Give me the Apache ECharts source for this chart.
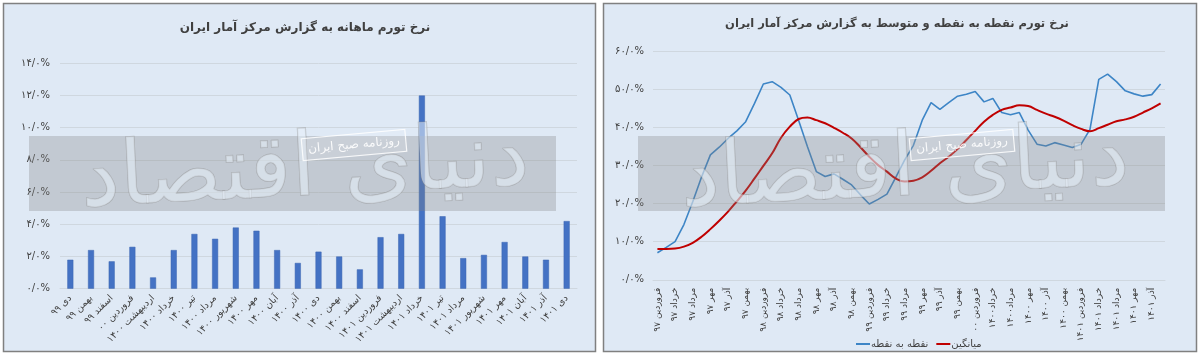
<!DOCTYPE html>
<html><head><meta charset="utf-8">
<script src="https://cdn.jsdelivr.net/npm/echarts@6/dist/echarts.min.js"></script>
<style>html,body{margin:0;padding:0;background:#fff}#c{width:1200px;height:356px}</style>
</head><body><div id="c"></div><script>
const leftTitle = 'نرخ تورم ماهانه به گزارش مرکز آمار ایران';
const rightTitle = 'نرخ تورم نقطه به نقطه و متوسط به گزارش مرکز آمار ایران';
const watermarkBig = 'دنیای اقتصاد';
const watermarkSmall = 'روزنامه صبح ایران';

const barCategories = ['دی ۹۹','بهمن ۹۹','اسفند ۹۹','فروردین ۰۰','اردیبهشت ۱۴۰۰','خرداد ۱۴۰۰','تیر ۱۴۰۰','مرداد ۱۴۰۰','شهریور ۱۴۰۰','مهر ۱۴۰۰','آبان ۱۴۰۰','آذر ۱۴۰۰','دی ۱۴۰۰','بهمن ۱۴۰۰','اسفند ۱۴۰۰','فروردین ۱۴۰۱','اردیبهشت ۱۴۰۱','خرداد ۱۴۰۱','تیر ۱۴۰۱','مرداد ۱۴۰۱','شهریور ۱۴۰۱','مهر ۱۴۰۱','آبان ۱۴۰۱','آذر ۱۴۰۱','دی ۱۴۰۱'];
const monthlyInflation = [1.8, 2.4, 1.7, 2.6, 0.7, 2.4, 3.4, 3.1, 3.8, 3.6, 2.4, 1.6, 2.3, 2.0, 1.2, 3.2, 3.4, 12.0, 4.5, 1.9, 2.1, 2.9, 2.0, 1.8, 4.2];
const barTickLabels = ['۰/۰%','۲/۰%','۴/۰%','۶/۰%','۸/۰%','۱۰/۰%','۱۲/۰%','۱۴/۰%'];

const lineCategories = [
 'فروردین ۹۷','اردیبهشت ۹۷','خرداد ۹۷','تیر ۹۷','مرداد ۹۷','شهریور ۹۷','مهر ۹۷','آبان ۹۷','آذر ۹۷','دی ۹۷','بهمن ۹۷','اسفند ۹۷',
 'فروردین ۹۸','اردیبهشت ۹۸','خرداد ۹۸','تیر ۹۸','مرداد ۹۸','شهریور ۹۸','مهر ۹۸','آبان ۹۸','آذر ۹۸','دی ۹۸','بهمن ۹۸','اسفند ۹۸',
 'فروردین ۹۹','اردیبهشت ۹۹','خرداد ۹۹','تیر ۹۹','مرداد ۹۹','شهریور ۹۹','مهر ۹۹','آبان ۹۹','آذر ۹۹','دی ۹۹','بهمن ۹۹','اسفند ۹۹',
 'فروردین ۰۰','اردیبهشت ۱۴۰۰','خرداد۱۴۰۰','تیر ۱۴۰۰','مرداد۱۴۰۰','شهریور ۱۴۰۰','مهر ۱۴۰۰','آبان ۱۴۰۰','آذر ۱۴۰۰','دی ۱۴۰۰','بهمن ۱۴۰۰','اسفند ۱۴۰۰',
 'فروردین ۱۴۰۱','اردیبهشت ۱۴۰۱','خرداد ۱۴۰۱','تیر ۱۴۰۱','مرداد ۱۴۰۱','شهریور ۱۴۰۱','مهر ۱۴۰۱','آبان ۱۴۰۱','آذر ۱۴۰۱','دی ۱۴۰۱'];
const pointInflation = [7.1, 8.5, 10.0, 14.5, 20.5, 27.0, 32.8, 34.8, 37.1, 39.1, 41.5, 46.3,
 51.4, 52.0, 50.5, 48.5, 41.8, 34.9, 28.4, 27.1, 27.8, 26.4, 24.9, 22.3,
 19.9, 21.1, 22.5, 26.9, 31.4, 35.3, 41.9, 46.5, 44.7, 46.5, 48.2, 48.7,
 49.4, 46.7, 47.6, 43.9, 43.3, 43.9, 39.3, 35.6, 35.1, 36.0, 35.4, 34.7,
 35.6, 39.5, 52.6, 54.0, 52.0, 49.6, 48.8, 48.2, 48.6, 51.4];
const averageInflation = [8.1, 8.1, 8.2, 8.7, 9.7, 11.3, 13.3, 15.5, 17.9, 20.6, 23.4, 26.6,
 29.9, 33.2, 37.3, 40.2, 42.2, 42.6, 41.9, 41.1, 39.9, 38.6, 37.1, 34.8,
 32.3, 30.1, 28.4, 26.6, 25.8, 26.0, 26.9, 28.6, 30.6, 32.3, 34.3, 36.7,
 39.1, 41.5, 43.3, 44.6, 45.2, 45.8, 45.6, 44.6, 43.6, 42.8, 41.8, 40.6,
 39.6, 39.0, 39.8, 40.7, 41.6, 42.1, 42.8, 43.9, 45.0, 46.3];
const lineTickLabels = ['۰/۰%','۱۰/۰%','۲۰/۰%','۳۰/۰%','۴۰/۰%','۵۰/۰%','۶۰/۰%'];
const seriesNames = ['نقطه به نقطه','میانگین'];

const FONT = '"DejaVu Sans", sans-serif';
const txt = '#404040';
const gridCol = '#cfd7df';

function panel(x, w) {
  return { type: 'rect', z: -100, silent: true, shape: { x: x, y: 3.5, width: w, height: 348 },
    style: { fill: '#dfe9f5', stroke: '#808080', lineWidth: 1.5 } };
}
function band(x, w) {
  return { type: 'rect', z: 50, silent: true, shape: { x: x, y: 136, width: w, height: 75 },
    style: { fill: 'rgba(128,128,128,0.3)' } };
}
function bigMark(cx) {
  return { type: 'text', z: 51, silent: true, x: cx, y: 172, rotation: 0.05,
    style: { text: watermarkBig, font: '88px ' + FONT, textAlign: 'center', textVerticalAlign: 'middle',
      fill: 'rgba(232,240,250,0.55)', stroke: 'rgba(140,140,140,0.45)', lineWidth: 1.3 } };
}
function smallMark(cx) {
  return { type: 'group', z: 52, x: cx, y: 145, rotation: 0.09, silent: true, children: [
    { type: 'rect', z: 52, shape: { x: -52, y: -11, width: 104, height: 22 },
      style: { fill: 'rgba(255,255,255,0.12)', stroke: 'rgba(255,255,255,0.85)', lineWidth: 1.2 } },
    { type: 'text', z: 53, style: { text: watermarkSmall, x: 0, y: 0, font: '12px ' + FONT, textAlign: 'center', textVerticalAlign: 'middle', fill: 'rgba(255,255,255,0.9)' } }
  ] };
}

const chart = echarts.init(document.getElementById('c'), null, { renderer: 'canvas' });
chart.setOption({
  animation: false,
  backgroundColor: '#ffffff',
  textStyle: { fontFamily: FONT },
  graphic: [
    panel(3.5, 592), panel(603.5, 593),
    band(29, 527), band(638, 527),
    bigMark(305), bigMark(905),
    smallMark(354), smallMark(962),
    { type: 'text', z: 60, silent: true, style: { text: leftTitle, x: 305, y: 28, font: 'bold 12px ' + FONT, textAlign: 'center', textVerticalAlign: 'middle', fill: txt } },
    { type: 'text', z: 60, silent: true, style: { text: rightTitle, x: 897, y: 24, font: 'bold 11.5px ' + FONT, textAlign: 'center', textVerticalAlign: 'middle', fill: txt } }
  ],
  legend: {
    data: seriesNames, left: 851, top: 334, itemWidth: 14, itemHeight: 2, itemGap: 8, icon: 'rect',
    textStyle: { fontSize: 10, color: txt, fontFamily: FONT, padding: [0, 0, 0, -4] }
  },
  grid: [
    { left: 60, right: 623, top: 63.3, bottom: 67.3 },
    { left: 653, right: 35, top: 51.2, bottom: 76.2 }
  ],
  xAxis: [
    { type: 'category', gridIndex: 0, data: barCategories,
      axisLine: { lineStyle: { color: gridCol } }, axisTick: { show: false },
      axisLabel: { interval: 0, rotate: 45, fontSize: 9.5, color: txt, margin: 8, fontFamily: FONT } },
    { type: 'category', gridIndex: 1, data: lineCategories, boundaryGap: true,
      axisLine: { lineStyle: { color: gridCol } }, axisTick: { show: false },
      axisLabel: { interval: 1, rotate: 90, fontSize: 9, color: txt, margin: 8, fontFamily: FONT } }
  ],
  yAxis: [
    { type: 'value', gridIndex: 0, min: 0, max: 14, interval: 2,
      axisLine: { show: false }, axisTick: { show: false },
      splitLine: { lineStyle: { color: gridCol } },
      axisLabel: { fontSize: 10, color: txt, margin: 10, fontFamily: FONT, formatter: v => barTickLabels[Math.round(v / 2)] } },
    { type: 'value', gridIndex: 1, min: 0, max: 60, interval: 10,
      axisLine: { show: false }, axisTick: { show: false },
      splitLine: { lineStyle: { color: gridCol } },
      axisLabel: { fontSize: 10, color: txt, margin: 9, fontFamily: FONT, formatter: v => lineTickLabels[Math.round(v / 10)] } }
  ],
  series: [
    { type: 'bar', name: 'monthly', xAxisIndex: 0, yAxisIndex: 0, data: monthlyInflation, barWidth: 6,
      itemStyle: { color: '#4472c4', borderColor: '#3a64b0', borderWidth: 0.5 } },
    { type: 'line', name: seriesNames[0], xAxisIndex: 1, yAxisIndex: 1, data: pointInflation,
      showSymbol: false, lineStyle: { color: '#3d85c6', width: 1.6 }, itemStyle: { color: '#3d85c6' } },
    { type: 'line', name: seriesNames[1], xAxisIndex: 1, yAxisIndex: 1, data: averageInflation,
      showSymbol: false, smooth: 0.4, lineStyle: { color: '#c00000', width: 2 }, itemStyle: { color: '#c00000' } }
  ]
});
</script></body></html>
